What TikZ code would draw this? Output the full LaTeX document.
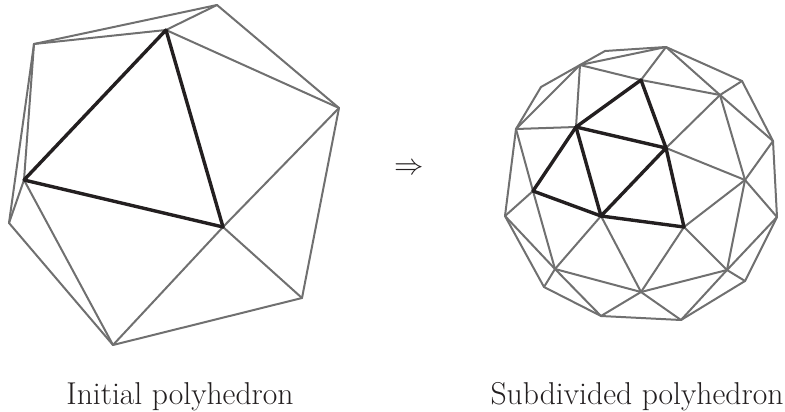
\documentclass[tikz,border=0pt]{standalone}
\usepackage{graphicx}
\tikzset{
  pt/.style={coordinate},
  thin edge/.style={draw=edgegray,line width=2pt,line cap=round,line join=round},
  thick edge/.style={draw=edgedark,line width=3.4pt,line cap=round,line join=round},
  label text/.style={inner sep=0pt,anchor=base,font=\fontsize{31.6}{38}\selectfont,text=edgedark},
  arrow text/.style={inner sep=0pt,anchor=base,font=\fontsize{24.88}{30}\selectfont,text=edgedark}
}
\definecolor{edgegray}{HTML}{707070}
\definecolor{edgedark}{HTML}{231F20}
\begin{document}
\begin{tikzpicture}[x=1pt,y=-1pt]
\useasboundingbox (0,0) rectangle (785,412);
% left polyhedron
\foreach \n/\x/\y in {A/217/5,B/166/30,C/34/44,D/24/180,E/9/223,F/113/345,G/302/298,H/339/108,I/223/227}
  \coordinate (\n) at (\x,\y);
\foreach \p/\q in {C/A,C/B,B/A,A/H,B/H,C/D,C/E,E/D,E/F,D/F,F/I,F/G,I/G,G/H,I/H}
  \draw[thin edge] (\p) -- (\q);
\foreach \p/\q in {D/B,B/I,I/D}
  \draw[thick edge] (\p) -- (\q);
% right polyhedron
\foreach \n/\x/\y in {a/666/47,b/605/51,c/580/65,d/541/87,e/516/129,f/576/127,g/641/80,h/720/95,i/742/81,j/773/141,k/666/148,l/745/180,m/533/191,n/601/216,o/684/227,p/505/216,q/777/217,r/555/269,s/727/270,t/641/292,u/544/287,v/745/281,w/601/316,x/681/320}
  \coordinate (r\n) at (\x,\y);
\foreach \p/\q in {a/b,b/c,c/a,c/d,d/e,c/e,c/f,e/f,c/g,g/a,g/h,a/h,a/i,h/i,i/j,h/j,h/k,h/l,j/l,k/l,j/q,l/q,l/s,l/o,q/s,q/v,s/v,v/x,s/x,s/o,s/t,o/t,n/t,n/r,m/r,e/m,e/p,m/p,p/r,p/u,u/r,u/w,r/w,r/t,t/w,t/x,w/x}
  \draw[thin edge] (r\p) -- (r\q);
\foreach \p/\q in {f/g,g/k,f/k,f/m,f/n,k/n,k/o,m/n,n/o}
  \draw[thick edge] (r\p) -- (r\q);
% labels
\node[arrow text] (arrow) at (409,174) {\scalebox{1.18}{$\Rightarrow$}};
\node[label text] (left label) at (180,404) {Initial polyhedron};
\node[label text] (right label) at (637,404) {Subdivided polyhedron};
\end{tikzpicture}
\end{document}
